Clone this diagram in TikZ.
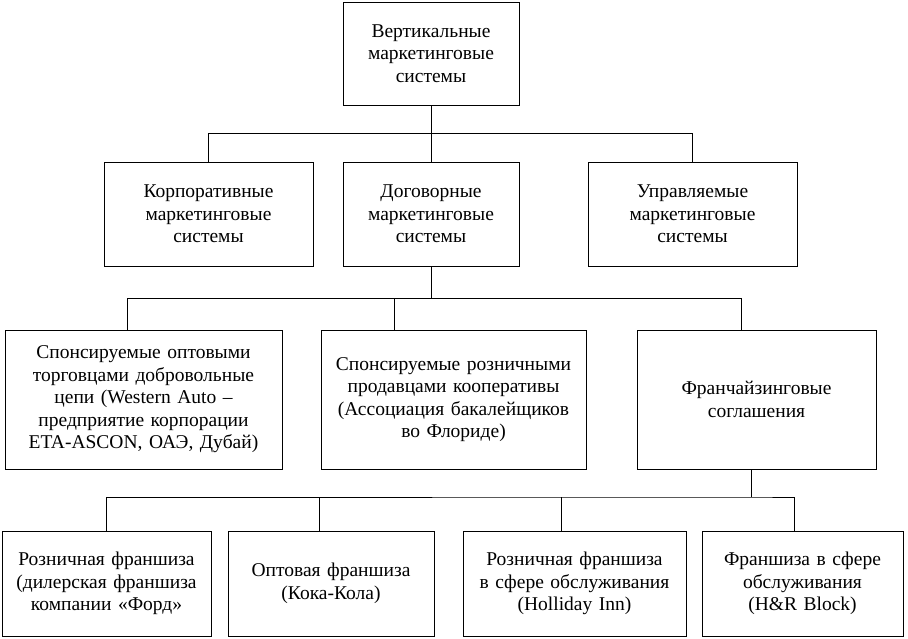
\documentclass[tikz,border=0pt]{standalone}
\usepackage{fontspec}
\setmainfont{Liberation Serif}
\begin{document}
\begin{tikzpicture}[x=1pt,y=-1pt,
  bx/.style={draw,line width=0.8pt,align=center,inner sep=1pt,font=\fontsize{19.5}{22.5}\selectfont},
  ln/.style={line width=0.8pt}]
\useasboundingbox (0,0) rectangle (908,638);
\newcommand{\bxat}[6]{\node[bx,minimum width=#3-#1,minimum height=#4-#2,text width=#3-#1-2] (#5) at ({(#1+#3)/2},{(#2+#4)/2}) {#6};}
\bxat{343}{2}{519}{105}{top}{Вертикальные\\маркетинговые\\системы}
\bxat{104}{162}{313}{266}{a}{Корпоративные\\маркетинговые\\системы}
\bxat{343}{162}{519}{266}{b}{Договорные\\маркетинговые\\системы}
\bxat{588}{162}{797}{266}{c}{Управляемые\\маркетинговые\\системы}
\bxat{5}{330}{282}{469}{d}{Спонсируемые оптовыми\\торговцами добровольные\\цепи (Western Auto –\\предприятие корпорации\\ETA-ASCON, ОАЭ, Дубай)}
\bxat{321}{330}{586}{469}{e}{Спонсируемые розничными\\продавцами кооперативы\\(Ассоциация бакалейщиков\\во Флориде)}
\bxat{637}{330}{876}{469}{f}{Франчайзинговые\\соглашения}
\bxat{2}{531}{211}{636}{g}{Розничная франшиза\\(дилерская франшиза\\компании «Форд»}
\bxat{228}{531}{434}{636}{h}{Оптовая франшиза\\(Кока-Кола)}
\bxat{463}{531}{686}{636}{i}{Розничная франшиза\\в сфере обслуживания\\(Holliday Inn)}
\bxat{702}{531}{903}{636}{j}{Франшиза в сфере\\обслуживания\\(H\&R Block)}
\draw[ln] (top.south) -- ++(0,28) coordinate (h1);
\draw[ln] (a.north -| 208,0) |- (h1) -| (c.north -| 692,0);
\draw[ln] (h1) -- (b.north);
\draw[ln] (b.south) -- ++(0,32) coordinate (h2);
\draw[ln] (d.north -| 127,0) |- (h2) -| (f.north -| 741,0);
\draw[ln] (e.north -| 394,0) -- (394,298);
\draw[ln] (f.south -| 751,0) -- (751,497) coordinate (h3);
\draw[ln] (g.north -| 106,0) |- (h3) -| (j.north -| 794,0);
\draw[ln] (h.north -| 319,0) -- (319,497);
\draw[ln] (i.north -| 561,0) -- (561,497);
\end{tikzpicture}
\end{document}
